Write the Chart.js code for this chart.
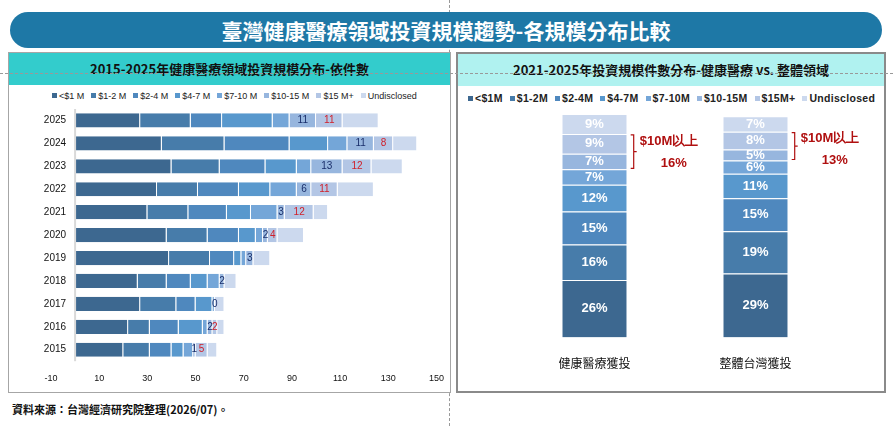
<!DOCTYPE html>
<html>
<head>
<meta charset="utf-8">
<script src="https://cdn.jsdelivr.net/npm/chart.js@4"></script>
<style>
  body { margin: 0; width: 893px; height: 426px; background: #fff; position: relative; overflow: hidden;
         font-family: "Noto Sans CJK TC", "Noto Sans", sans-serif; }
  .banner { position: absolute; left: 10px; top: 12px; width: 872px; height: 36px; border-radius: 18px;
            background: #1e78a6; color: #fff; font-size: 21px; font-weight: bold; text-align: center; line-height: 36px; }
  .panel { position: absolute; border: 1px solid #a6a6a6; background: #fff; }
  .head { height: 32px; line-height: 32px; text-align: center; font-size: 13px; font-weight: bold; color: #111; }
  .src { position: absolute; left: 12px; top: 401px; font-size: 11px; font-weight: bold; color: #111; }
  .dv { position: absolute; left: 449px; top: 0; height: 426px; border-left: 1px dashed #999; }
  .dh { position: absolute; left: 0; top: 73px; width: 893px; border-top: 1px dashed #999; }
  .legend { position: absolute; font-family: Arial, "Liberation Sans", sans-serif; font-size: 9px; color: #222; white-space: nowrap; }
  .legend span { margin-right: 7px; }
  .legend i { display: inline-block; width: 5px; height: 5px; margin-right: 2px; vertical-align: 1px; }
  canvas { position: absolute; }
</style>
</head>
<body>
<div class="dv"></div>
<div class="banner">臺灣健康醫療領域投資規模趨勢-各規模分布比較</div>
<div class="panel" style="left:8px;top:52px;width:441px;height:339px;">
  <div class="head" style="background:#33cccc;">2015-2025年健康醫療領域投資規模分布-依件數</div>
</div>
<div class="panel" style="left:456px;top:52px;width:426px;height:337px;border:2px solid #8a8a8a;">
  <div class="head" style="background:#b0f2f0;">2021-2025年投資規模件數分布-健康醫療 vs. 整體領域</div>
</div>
<div class="dh"></div>
<div class="legend" id="legL" style="left:52px;top:91px;"></div>
<div class="legend" id="legR" style="left:468px;top:92px;font-weight:bold;font-size:10.5px;letter-spacing:0.3px;"></div>
<canvas id="left" width="438" height="282" style="left:10px;top:108px;width:438px;height:282px;"></canvas>
<canvas id="right" width="424" height="278" style="left:459px;top:108px;width:424px;height:278px;"></canvas>
<div class="src">資料來源：台灣經濟研究院整理(2026/07)。</div>
<script>
// ---- 資料 ----
const years = ['2025', '2024', '2023', '2022', '2021', '2020', '2019', '2018', '2017', '2016', '2015'];
const sizeNames = ['<$1M', '$1-2M', '$2-4M', '$4-7M', '$7-10M', '$10-15M', '$15M+', 'Undisclosed'];
const colors = ['#3d6890', '#477caa', '#4f88be', '#5898cd', '#74a6d8', '#97b6de', '#b3c6e5', '#ccd9ee'];

const under1M  = [27, 36, 40, 34, 30, 38, 39, 26, 27, 22, 20];
const m1to2    = [21, 26, 20, 17, 17, 17, 17, 12, 15, 9, 11];
const m2to4    = [13, 27, 19, 17, 16, 13, 10, 10, 8, 12, 9];
const m4to7    = [21, 16, 13, 13, 10, 7, 3, 7, 7, 10, 5];
const m7to10   = [7, 8, 6, 11, 11, 3, 2, 5, 1, 2, 4];
const m10to15  = [11, 11, 13, 6, 3, 2, 3, 2, 0, 2, 1];
const m15plus  = [11, 8, 12, 11, 12, 4, 0, 0, 0, 2, 5];
const undisclosed = [15, 10, 13, 15, 6, 11, 7, 5, 4, 3, 4];
const leftSeries = [under1M, m1to2, m2to4, m4to7, m7to10, m10to15, m15plus, undisclosed];

const groups = ['健康醫療獲投', '整體台灣獲投'];
const healthPct = [26, 16, 15, 12, 7, 7, 9, 9];
const overallPct = [29, 19, 15, 11, 6, 5, 8, 7];
const over10M = ['16%', '13%'];

Chart.defaults.font.family = 'Arial, "Liberation Sans", "Noto Sans CJK TC", sans-serif';
Chart.defaults.color = '#111';
Chart.defaults.animation = false;

// 圖例（HTML，避免換行）
function fillLegend(id, names) {
  document.getElementById(id).innerHTML = names.map((n, i) =>
    '<span><i style="background:' + colors[i] + '"></i>' + n.replace(/&/g, '&amp;').replace(/</g, '&lt;') + '</span>').join('');
}
fillLegend('legL', sizeNames.map(n => n.replace('M', ' M')));
fillLegend('legR', sizeNames);

// ---- 左圖：橫向堆疊 ----
const leftLabels = {
  id: 'leftLabels',
  afterDatasetsDraw(chart) {
    const ctx = chart.ctx, x = chart.scales.x, y = chart.scales.y;
    ctx.save();
    ctx.strokeStyle = '#d9d9d9'; ctx.lineWidth = 2;
    ctx.beginPath(); ctx.moveTo(x.getPixelForValue(0), chart.chartArea.top); ctx.lineTo(x.getPixelForValue(0), chart.chartArea.bottom); ctx.stroke();
    ctx.font = '10px Arial'; ctx.textAlign = 'right'; ctx.textBaseline = 'middle'; ctx.fillStyle = '#111';
    years.forEach((yr, i) => ctx.fillText(yr, x.getPixelForValue(0) - 9, y.getPixelForValue(i)));
    ctx.textAlign = 'center'; ctx.font = '10px Arial';
    [5, 6].forEach(di => {
      const meta = chart.getDatasetMeta(di);
      meta.data.forEach((bar, i) => {
        const v = leftSeries[di][i];
        if (di === 6 && v === 0) return;
        if (di === 5 && v === 0 && i !== 8) return;
        ctx.fillStyle = di === 5 ? '#1a2f6b' : '#d0202a';
        ctx.fillText(String(v), (bar.x + bar.base) / 2, bar.y);
      });
    });
    ctx.restore();
  }
};

new Chart(document.getElementById('left'), {
  type: 'bar',
  data: {
    labels: years,
    datasets: leftSeries.map((d, i) => ({
      label: sizeNames[i], data: d, backgroundColor: colors[i],
      borderColor: 'rgba(255,255,255,0.6)', borderWidth: { left: 0, right: 1, top: 0, bottom: 0 }, borderSkipped: false,
      barPercentage: 0.62, categoryPercentage: 1
    }))
  },
  options: {
    indexAxis: 'y', responsive: false,
    layout: { padding: { left: 41, right: 10, top: 1, bottom: 2 } },
    plugins: { legend: { display: false }, tooltip: { enabled: false } },
    scales: {
      x: { stacked: true, min: -10, max: 150, ticks: { stepSize: 20, font: { size: 9 }, color: '#111', padding: 4 }, grid: { display: false }, border: { display: false } },
      y: { stacked: true, display: false }
    }
  },
  plugins: [leftLabels]
});

// ---- 右圖：直向百分比堆疊 ----
const rightLabels = {
  id: 'rightLabels',
  afterDatasetsDraw(chart) {
    const ctx = chart.ctx;
    ctx.save();
    ctx.font = 'bold 13px Arial'; ctx.textAlign = 'center'; ctx.textBaseline = 'middle'; ctx.fillStyle = '#fff';
    chart.data.datasets.forEach((ds, di) => {
      chart.getDatasetMeta(di).data.forEach((bar, i) => {
        ctx.fillText(ds.data[i] + '%', bar.x, (bar.y + bar.base) / 2);
      });
    });
    // $10M以上 括號
    const red = '#b01010';
    [0, 1].forEach(i => {
      const top = chart.getDatasetMeta(6).data[i], bot = chart.getDatasetMeta(5).data[i];
      const y1 = top.y + 1, y2 = bot.base - 1, bx = top.x + top.width / 2 + 4;
      ctx.strokeStyle = red; ctx.lineWidth = 1.2;
      ctx.beginPath();
      ctx.moveTo(bx, y1); ctx.lineTo(bx + 3, y1); ctx.lineTo(bx + 3, y2); ctx.lineTo(bx, y2);
      ctx.moveTo(bx + 3, (y1 + y2) / 2); ctx.lineTo(bx + 6, (y1 + y2) / 2);
      ctx.stroke();
      ctx.fillStyle = red; ctx.font = 'bold 13px Arial'; ctx.textAlign = 'left';
      ctx.fillText('$10M以上', bx + 9, y1 + 6);
      ctx.textAlign = 'center';
      ctx.fillText(over10M[i], bx + 43, y1 + 28);
    });
    ctx.restore();
  }
};

new Chart(document.getElementById('right'), {
  type: 'bar',
  data: {
    labels: groups,
    datasets: sizeNames.map((n, i) => ({
      label: n, data: [healthPct[i], overallPct[i]], backgroundColor: colors[i],
      borderColor: 'rgba(255,255,255,0.6)', borderWidth: { top: 1, bottom: 0, left: 0, right: 0 }, borderSkipped: false,
      barPercentage: 0.4, categoryPercentage: 1
    }))
  },
  options: {
    responsive: false,
    layout: { padding: { left: 55, right: 47, top: 6, bottom: 2 } },
    plugins: { legend: { display: false }, tooltip: { enabled: false } },
    scales: {
      x: { stacked: true, grid: { display: false }, border: { display: false }, ticks: { font: { size: 12 }, color: '#111', padding: 12 } },
      y: { stacked: true, display: false, min: 0, max: 101 }
    }
  },
  plugins: [rightLabels]
});
</script>
</body>
</html>
